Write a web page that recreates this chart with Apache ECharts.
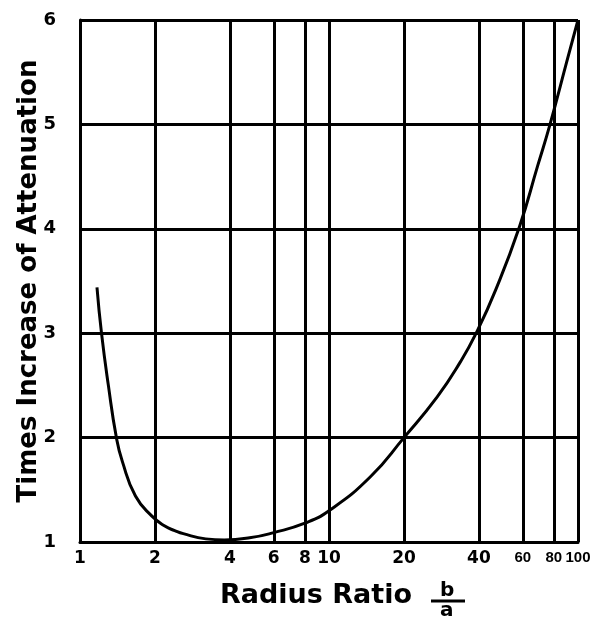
<!DOCTYPE html>
<html>
<head>
<meta charset="utf-8">
<script src="https://cdn.jsdelivr.net/npm/echarts@6/dist/echarts.min.js"></script>
<style>
  html, body { margin: 0; padding: 0; background: #fff; }
  #chart { width: 608px; height: 623px; }
</style>
</head>
<body>
<div id="chart"></div>
<script>
// values
var ratio = [1.17, 1.22, 1.3, 1.4, 1.48, 1.67, 1.94, 2.2, 2.4, 2.6, 3.2, 3.8, 4.8, 6, 8, 10, 14.6, 20, 27.2, 33.8, 39, 46.8, 58.2, 68.8, 77.2, 90.8, 100];
var increase = [3.44, 3.0, 2.5, 2.0, 1.77, 1.44, 1.25, 1.15, 1.11, 1.08, 1.03, 1.02, 1.04, 1.09, 1.18, 1.30, 1.62, 2.0, 2.39, 2.73, 3.0, 3.42, 4.02, 4.6, 5.0, 5.63, 6.0];
var xTicks = [1, 2, 4, 6, 8, 10, 20, 40, 60, 80, 100];

var font = 'DejaVu Sans';
var ink = '#000';

var chart = echarts.init(document.getElementById('chart'));

var points = [];
for (let i = 0; i < ratio.length; i++) {
  points.push([ratio[i], increase[i]]);
}

var vLines = xTicks.map(function (v) { return { xAxis: v }; });

var option = {
  backgroundColor: '#fff',
  animation: false,
  grid: { left: 80, right: 30, top: 20, bottom: 81 },
  xAxis: {
    type: 'log',
    logBase: 10,
    min: 1,
    max: 100,
    name: 'Radius Ratio',
    nameLocation: 'middle',
    nameGap: 40,
    nameTextStyle: { fontFamily: font, fontWeight: 'bold', fontSize: 27, color: ink, padding: [0, 26, 0, 0] },
    axisLine: { lineStyle: { color: ink, width: 3 } },
    axisTick: { show: false, customValues: xTicks },
    splitLine: { show: false },
    axisLabel: {
      customValues: xTicks,
      showMaxLabel: true,
      showMinLabel: true,
      hideOverlap: false,
      margin: 8,
      fontFamily: font, fontWeight: 'bold', fontSize: 17, color: ink,
      formatter: function (v) {
        return v >= 60 ? '{s|' + v + '}' : String(v);
      },
      rich: {
        s: { fontFamily: 'Liberation Sans', fontWeight: 'bold', fontSize: 15, color: ink }
      }
    }
  },
  yAxis: {
    type: 'value',
    min: 1,
    max: 6,
    interval: 1,
    name: 'Times Increase of Attenuation',
    nameLocation: 'middle',
    nameMoveOverlap: false,
    nameGap: 38,
    nameTextStyle: { fontFamily: font, fontWeight: 'bold', fontSize: 26, color: ink },
    axisLine: { show: true, lineStyle: { color: ink, width: 3 } },
    axisTick: { show: false },
    splitLine: { show: true, lineStyle: { color: ink, width: 3 } },
    axisLabel: { margin: 24, fontFamily: font, fontWeight: 'bold', fontSize: 18, color: ink }
  },
  graphic: [
    { type: 'text', left: 440, top: 581, style: { text: 'b', font: 'bold 20px "DejaVu Sans"', fill: ink } },
    { type: 'line', shape: { x1: 431, y1: 601, x2: 465, y2: 601 }, style: { stroke: ink, lineWidth: 3 } },
    { type: 'text', left: 440, top: 601, style: { text: 'a', font: 'bold 20px "DejaVu Sans"', fill: ink } }
  ],
  series: [{
    type: 'line',
    data: points,
    smooth: 0.5,
    showSymbol: false,
    lineStyle: { color: ink, width: 3 },
    markLine: {
      silent: true,
      symbol: 'none',
      label: { show: false },
      lineStyle: { type: 'solid', color: ink, width: 3 },
      data: vLines
    }
  }]
};

chart.setOption(option);
window.onresize = chart.resize;
</script>
</body>
</html>
